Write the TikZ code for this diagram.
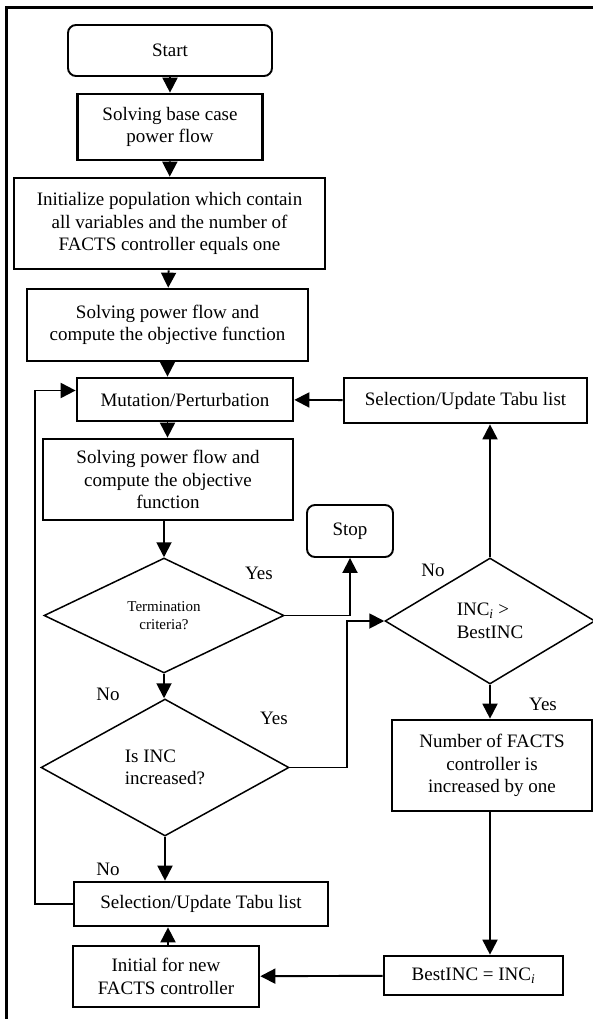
\documentclass[tikz,border=0pt]{standalone}
\usepackage{fontspec}
\setmainfont{Liberation Serif}
\usepackage{tikz}
\usetikzlibrary{calc,arrows.meta,positioning,shapes.geometric}
\newcommand{\fcFont}{\fontsize{19}{22.5}\selectfont}
\newcommand{\fcSmall}{\fontsize{15}{18}\selectfont}
\tikzset{
  procBox/.style={draw, line width=2.7pt, inner sep=0pt, align=center, font=\fcFont},
  termBox/.style={draw, line width=1.9pt, rounded corners=8pt, inner sep=0pt, align=center, font=\fcFont},
  decision/.style={diamond, draw, line width=1.5pt, inner sep=0pt, align=center, font=\fcFont},
  flowArrow/.style={line width=1.9pt, -{Triangle[length=15pt,width=15pt]}},
  lbl/.style={inner sep=0pt, font=\fcFont}
}

\begin{document}
\begin{tikzpicture}[x=1pt,y=-1pt]
    \useasboundingbox (0,0) rectangle (593,1019);

    % frame
    \draw[line width=3pt] (6,1019) -- (6,8) -- (593,8);

    % main column
    \node[termBox, minimum width=204pt, minimum height=51pt] (start) at (170,50.5) {Start};
    \node[procBox, minimum width=185pt, minimum height=66pt] (base) at (170,127) {Solving base case\\power flow};
    \node[procBox, minimum width=311pt, minimum height=91pt] (init) at (169.5,223.5) {Initialize population which contain\\all variables and the number of\\FACTS controller equals one};
    \node[procBox, minimum width=281pt, minimum height=72pt] (solve1) at (167.5,325) {Solving power flow and\\compute the objective function};
    \node[procBox, minimum width=216pt, minimum height=43pt] (mut) at (185,399.5) {Mutation/Perturbation};
    \node[procBox, minimum width=243pt, minimum height=45pt] (selR) at (465.5,400.5) {Selection/Update Tabu list};
    \node[procBox, minimum width=250pt, minimum height=81pt] (solve2) at (168,479.5) {Solving power flow and\\compute the objective\\function};
    \node[termBox, minimum width=86pt, minimum height=52pt] (stop) at (350,531) {Stop};

    % decisions
    \node[decision, minimum width=240pt, minimum height=115pt, font=\fcSmall] (term) at (164,615.5) {Termination\\criteria?};
    \node[decision, minimum width=248pt, minimum height=137pt, align=left] (isinc) at (165,767.5) {Is INC\\increased?};
    \node[decision, minimum width=210pt, minimum height=126pt, align=left] (incd) at (490,621) {INC\textsubscript{\textit{i}} >\\BestINC};

    % lower boxes
    \node[procBox, minimum width=200pt, minimum height=91pt] (nfacts) at (492,765.5) {Number of FACTS\\controller is\\increased by one};
    \node[procBox, minimum width=254pt, minimum height=44pt] (selB) at (201,904) {Selection/Update Tabu list};
    \node[procBox, minimum width=186pt, minimum height=61pt] (initial) at (166,976.5) {Initial for new\\FACTS controller};
    \node[procBox, minimum width=179pt, minimum height=39pt] (best) at (473.5,975.5) {BestINC = INC\textsubscript{\textit{i}}};

    % yes / no labels
    \node[lbl] (yesStop) at (259,573) {Yes};
    \node[lbl] (noTerm) at (108,694) {No};
    \node[lbl] (yesInc) at (274,718) {Yes};
    \node[lbl] (noInc) at (108,869) {No};
    \node[lbl] (noBest) at (433,570) {No};
    \node[lbl] (yesBest) at (543,704) {Yes};

    % helper points for bends
    \coordinate (jog) at (347,700);
    \coordinate (loop) at (35,700);

    % arrows
    \draw[flowArrow] (start) -- (base);
    \draw[flowArrow] (base) -- (init);
    \draw[flowArrow] (init) -- (solve1);
    \draw[flowArrow] (solve1.south) -- (solve1.south |- mut.north);
    \draw[flowArrow] (selR) -- (mut);
    \draw[flowArrow] (mut.south -| solve1) -- (solve2.north -| solve1);
    \draw[flowArrow] (solve2.south -| term) -- (term.north);
    \draw[flowArrow] (term.east) -| (stop.south);
    \draw[flowArrow] (term.south) -- (term.south |- isinc.north);
    \draw[flowArrow] (isinc.east) -- (isinc.east -| jog) |- (incd.west);
    \draw[flowArrow] (incd.north) -- (incd.north |- selR.south);
    \draw[flowArrow] (incd.south) -- (incd.south |- nfacts.north);
    \draw[flowArrow] (nfacts.south -| incd) -- (best.north -| incd);
    \draw[flowArrow] (best) -- (initial);
    \draw[flowArrow] (initial.north -| 168,0) -- (selB.south -| 168,0);
    \draw[flowArrow] (isinc.south) -- (isinc.south |- selB.north);
    \draw[flowArrow] (selB.west) -- (selB.west -| loop) |- ([yshift=9pt]mut.west);
\end{tikzpicture}
\end{document}
